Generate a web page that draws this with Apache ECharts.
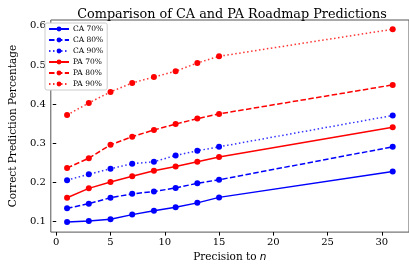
<!DOCTYPE html>
<html><head><meta charset="utf-8">
<script src="https://cdn.jsdelivr.net/npm/echarts@6/dist/echarts.min.js"></script>
<style>html,body{margin:0;padding:0;background:#fff}#c{width:409px;height:268px}</style>
</head><body><div id="c"></div>
<script>
const precision = [1, 3, 5, 7, 9, 11, 13, 15, 31];
const ca70 = [0.099, 0.102, 0.106, 0.118, 0.128, 0.137, 0.148, 0.162, 0.228];
const ca80 = [0.134, 0.146, 0.161, 0.171, 0.177, 0.186, 0.198, 0.207, 0.291];
const ca90 = [0.206, 0.221, 0.235, 0.248, 0.253, 0.269, 0.281, 0.291, 0.371];
const pa70 = [0.161, 0.185, 0.201, 0.216, 0.230, 0.241, 0.253, 0.265, 0.341];
const pa80 = [0.237, 0.262, 0.296, 0.317, 0.334, 0.349, 0.363, 0.375, 0.449];
const pa90 = [0.372, 0.403, 0.431, 0.454, 0.469, 0.484, 0.505, 0.522, 0.591];
const xTicks = [0, 5, 10, 15, 20, 25, 30];
const yTicks = [0.1, 0.2, 0.3, 0.4, 0.5, 0.6];

const serif = 'DejaVu Serif';
function mk(name, vals, color, type, opacity) {
  return {
    name, type: 'line', data: precision.map((x, i) => [x, vals[i]]),
    symbol: 'circle', symbolSize: 6,
    itemStyle: { color: color },
    lineStyle: { color: color, width: 1.5, type: type, opacity: opacity },
    animation: false
  };
}
const chart = echarts.init(document.getElementById('c'));
chart.setOption({
  animation: false,
  title: { text: 'Comparison of CA and PA Roadmap Predictions', left: 227, textAlign: 'center', top: 3,
    textStyle: { fontFamily: serif, fontSize: 12.8, fontWeight: 'normal', color: '#000' } },
  grid: { left: 43, right: -2, top: 20, bottom: 28, show: true, borderColor: '#555', borderWidth: 1, backgroundColor: 'transparent' },
  legend: {
    orient: 'vertical', left: 45, top: 23, itemWidth: 20, itemHeight: 6, itemGap: 3,
    backgroundColor: '#fff', borderColor: '#ccc', borderWidth: 1, borderRadius: 2, padding: [2, 4, 2, 3],
    textStyle: { fontFamily: serif, fontSize: 7.5, color: '#000', padding: [0, 0, 0, -1] },
    data: ['CA 70%', 'CA 80%', 'CA 90%', 'PA 70%', 'PA 80%', 'PA 90%']
  },
  xAxis: {
    type: 'value', min: -0.5, max: 32.5,
    name: '{a|Precision to }{b|n}', nameLocation: 'middle', nameGap: 17,
    nameTextStyle: { rich: { a: { fontFamily: serif, fontSize: 10.5, color: '#000' }, b: { fontFamily: 'DejaVu Sans', fontStyle: 'italic', fontSize: 10.5, color: '#000' } } },
    axisLine: { show: false },
    axisTick: { show: true, length: 3.5, customValues: xTicks, lineStyle: { color: '#000' } },
    axisLabel: { customValues: xTicks, fontFamily: serif, fontSize: 10, color: '#000', margin: 5 },
    splitLine: { show: false }
  },
  yAxis: {
    type: 'value', min: 0.0734, max: 0.6146,
    name: 'Correct Prediction Percentage', nameLocation: 'middle', nameGap: 27,
    nameTextStyle: { fontFamily: serif, fontSize: 10.5, color: '#000' },
    axisLine: { show: false },
    axisTick: { show: true, length: 3.5, customValues: yTicks, lineStyle: { color: '#000' } },
    axisLabel: { customValues: yTicks, fontFamily: serif, fontSize: 10, color: '#000', margin: 5,
      formatter: v => (Math.round(v * 10) / 10).toFixed(1) },
    splitLine: { show: false }
  },
  series: [
    mk('CA 70%', ca70, '#0000ff', 'solid', 1),
    mk('CA 80%', ca80, '#0000ff', [5.5, 2.4], 1),
    mk('CA 90%', ca90, '#0000ff', [1.5, 2.5], 0.8),
    mk('PA 70%', pa70, '#ff0000', 'solid', 1),
    mk('PA 80%', pa80, '#ff0000', [5.5, 2.4], 1),
    mk('PA 90%', pa90, '#ff0000', [1.5, 2.5], 0.8)
  ]
});
</script></body></html>
